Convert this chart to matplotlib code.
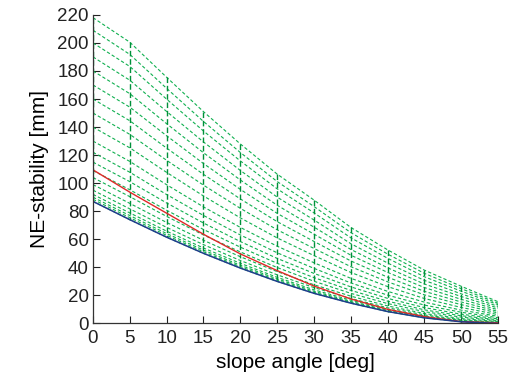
import numpy as np
import matplotlib
matplotlib.use("Agg")
import matplotlib.pyplot as plt

plt.rcParams['font.family'] = ['Liberation Sans', 'DejaVu Sans']

# slope angles [deg]
angles = [0, 5, 10, 15, 20, 25, 30, 35, 40, 45, 50, 55]

# family of NE-stability curves [mm] (top to bottom)
family = [
    [218, 200.5, 175.5, 151, 128, 106.5, 88, 68.5, 52.5, 38, 26.5, 15.5],
    [209, 191.8, 167.6, 144, 121.9, 101.2, 83.4, 64.8, 49.5, 35.7, 24.8, 14.4],
    [200, 183.2, 159.9, 137.2, 115.9, 96, 78.9, 61.1, 46.5, 33.3, 23, 13.4],
    [190, 173.4, 151.1, 129.4, 109.1, 90.1, 73.8, 56.9, 43.1, 30.7, 21.1, 12.2],
    [180, 163.8, 142.4, 121.7, 102.3, 84.3, 68.7, 52.8, 39.7, 28.1, 19.2, 11],
    [170, 154.2, 133.8, 114, 95.6, 78.5, 63.7, 48.7, 36.4, 25.6, 17.2, 9.8],
    [160, 144.5, 125, 106.3, 88.8, 72.6, 58.5, 44.6, 33, 22.9, 15.3, 8.6],
    [150, 134.8, 116.3, 98.6, 82.1, 66.8, 53.5, 40.5, 29.7, 20.4, 13.4, 7.5],
    [140, 125.2, 107.7, 90.9, 75.3, 61, 48.4, 36.4, 26.3, 17.8, 11.4, 6.3],
    [130, 115.5, 98.9, 83.1, 68.5, 55.1, 43.3, 32.2, 22.9, 15.2, 9.5, 5.1],
    [122, 107.8, 91.9, 77, 63.1, 50.4, 39.3, 28.9, 20.2, 13.1, 8, 4.1],
    [115, 101.1, 85.9, 71.6, 58.4, 46.4, 35.7, 26.1, 17.9, 11.3, 6.6, 3.3],
    [109, 95.3, 80.7, 67, 54.4, 42.9, 32.7, 23.6, 15.9, 9.7, 5.5, 2.6],
    [104, 90.4, 76.3, 63.1, 51, 39.9, 30.1, 21.5, 14.2, 8.4, 4.5, 2],
    [99, 85.6, 72, 59.3, 47.6, 37, 27.6, 19.5, 12.5, 7.1, 3.5, 1.4],
    [95, 81.7, 68.5, 56.2, 44.9, 34.7, 25.6, 17.8, 11.2, 6.1, 2.7, 0.9],
    [92, 78.8, 65.8, 53.8, 42.9, 32.9, 24, 16.6, 10.2, 5.3, 2.2, 0.6],
    [90, 76.9, 64.1, 52.3, 41.5, 31.8, 23, 15.7, 9.5, 4.8, 1.8, 0.4],
    [88.5, 75.4, 62.8, 51.1, 40.5, 30.8, 22.2, 15.1, 9, 4.4, 1.5, 0.2],
    [87, 74, 61.5, 50, 39.5, 30, 21.5, 14.5, 8.5, 4, 1.2, 0],
]

# lower bound (blue) and reference curve (red)
lower = [87, 74, 61.5, 50, 39.5, 30, 21.5, 14.5, 8.5, 4, 1.2, 0]
reference = [109.5, 93.6, 78.6, 63.6, 49.6, 37.7, 26.7, 17.5, 10.1, 4.9, 1.3, 0.5]

x = np.array(angles)
Y = np.array(family)

fig = plt.figure(figsize=(5.21, 3.81), dpi=100)
ax = fig.add_axes([0.1785, 0.151, 0.7775, 0.81])

green = '#10b050'
for row in Y:
    ax.plot(x, row, '--', color=green, lw=0.8, dashes=(3, 2))
# vertical connections at every angle
for i in range(len(x)):
    ax.plot([x[i]] * len(Y), Y[:, i], '--', color='#00903a', lw=1.0, dashes=(4, 2))

ax.plot(x, reference, '-', color='#e02828', lw=1.0)
ax.plot(x, lower, '-', color='#1f3c8c', lw=1.1)

ax.set_xlim(0, 55)
ax.set_ylim(0, 220)
ax.set_xticks(range(0, 56, 5))
ax.set_yticks(range(0, 221, 20))
ax.spines['top'].set_visible(False)
ax.spines['right'].set_visible(False)
for s in ['left', 'bottom']:
    ax.spines[s].set_color('#333333')
    ax.spines[s].set_linewidth(0.9)
ax.tick_params(direction='in', length=5, width=0.8, labelsize=13.5, colors='#222222')
ax.tick_params(axis='x', pad=5)
ax.tick_params(axis='y', pad=3)
ax.set_xlabel('slope angle [deg]', fontsize=15, labelpad=4)
ax.set_ylabel('NE-stability [mm]', fontsize=15, labelpad=6)

fig.savefig('out.png', dpi=100)
